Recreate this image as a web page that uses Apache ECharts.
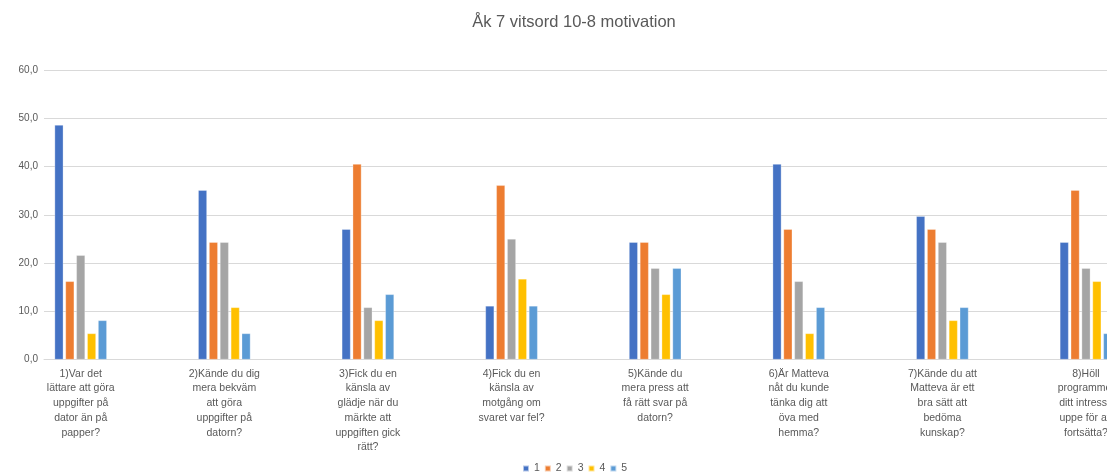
<!DOCTYPE html>
<html>
<head>
<meta charset="utf-8">
<script src="https://cdn.jsdelivr.net/npm/echarts@6/dist/echarts.min.js"></script>
<style>html,body{margin:0;padding:0;background:#fff}#c{width:1107px;height:474px}</style>
</head>
<body>
<div id="c"></div>
<script>
const titleText = 'Åk 7 vitsord 10-8 motivation';
const categories = [
  '1)Var det\nlättare att göra\nuppgifter på\ndator än på\npapper?',
  '2)Kände du dig\nmera bekväm\natt göra\nuppgifter på\ndatorn?',
  '3)Fick du en\nkänsla av\nglädje när du\nmärkte att\nuppgiften gick\nrätt?',
  '4)Fick du en\nkänsla av\nmotgång om\nsvaret var fel?',
  '5)Kände du\nmera press att\nfå rätt svar på\ndatorn?',
  '6)Är Matteva\nnåt du kunde\ntänka dig att\növa med\nhemma?',
  '7)Kände du att\nMatteva är ett\nbra sätt att\nbedöma\nkunskap?',
  '8)Höll\nprogrammet\nditt intresse\nuppe för att\nfortsätta?'
];
const seriesNames = ['1', '2', '3', '4', '5'];
const s1 = [48.6, 35.1, 27.0, 11.1, 24.3, 40.5, 29.7, 24.3];
const s2 = [16.2, 24.3, 40.5, 36.1, 24.3, 27.0, 27.0, 35.1];
const s3 = [21.6, 24.3, 10.8, 25.0, 18.9, 16.2, 24.3, 18.9];
const s4 = [5.4, 10.8, 8.1, 16.7, 13.5, 5.4, 8.1, 16.2];
const s5 = [8.1, 5.4, 13.5, 11.1, 18.9, 10.8, 10.8, 5.4];
const colors = ['#4472C4', '#ED7D31', '#A5A5A5', '#FFC000', '#5B9BD5'];
const yTicks = [0, 10, 20, 30, 40, 50, 60];

const allSeries = [s1, s2, s3, s4, s5];
const chart = echarts.init(document.getElementById('c'));
chart.setOption({
  animation: false,
  color: colors,
  title: {
    text: titleText,
    left: 569, top: 9,
    textAlign: 'center',
    textStyle: { fontFamily: 'Liberation Sans', fontSize: 16.5, fontWeight: 'normal', color: '#595959' }
  },
  legend: {
    data: seriesNames,
    top: 458, left: 517,
    itemWidth: 6, itemHeight: 6, itemGap: 4,
    icon: 'rect',
    textStyle: { fontFamily: 'Liberation Sans', fontSize: 10.5, color: '#595959' }
  },
  grid: { left: 44, top: 70, width: 1113.8, bottom: 114.5, containLabel: false, outerBoundsMode: 'none' },
  xAxis: {
    type: 'value',
    min: -0.2556, max: 7.5,
    splitLine: { show: false },
    axisTick: { show: false },
    axisLine: { show: true, lineStyle: { color: '#d9d9d9', width: 1 } },
    axisLabel: {
      customValues: categories.map((_, i) => i),
      formatter: v => categories[Math.round(v)] || '',
      fontFamily: 'Liberation Sans', fontSize: 10.5, color: '#595959',
      lineHeight: 14.7, verticalAlign: 'top', align: 'center', margin: 7,
      hideOverlap: false
    }
  },
  yAxis: {
    type: 'value', min: yTicks[0], max: yTicks[yTicks.length - 1], interval: 10,
    axisLine: { show: false }, axisTick: { show: false },
    splitLine: { lineStyle: { color: '#d9d9d9', width: 1 } },
    axisLabel: {
      formatter: v => v.toFixed(1).replace('.', ','),
      fontFamily: 'Liberation Sans', fontSize: 10, color: '#595959', margin: 6
    }
  },
  series: allSeries.map((arr, k) => ({
    name: seriesNames[k],
    type: 'bar',
    barWidth: 8.7,
    barGap: '25%',
    data: arr.map((v, i) => [i, v]),
    itemStyle: { borderColor: 'rgba(255,255,255,0.6)', borderWidth: 0.5 }
  }))
});
</script>
</body>
</html>
